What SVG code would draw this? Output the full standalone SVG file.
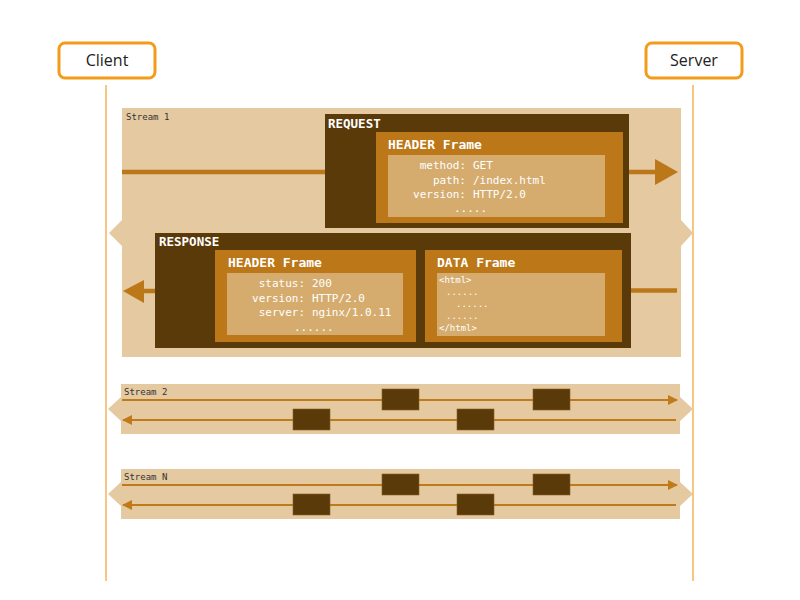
<svg xmlns="http://www.w3.org/2000/svg" width="800" height="600" viewBox="0 0 800 600">
<defs>
<style>
.actor{fill:#fff;stroke:#f39c1a;stroke-width:3}
.actorText{font-family:"Open Sans","Liberation Sans",sans-serif;font-size:16px;fill:#222;text-anchor:middle}
.life{stroke:#f0a030;stroke-width:1.2}
.band{fill:#e4c9a1}
.dark{fill:#5b3a0a}
.mid{fill:#bb7718}
.light{fill:#d5ac6e}
.mono{font-family:"DejaVu Sans Mono","Liberation Mono",monospace}
.slabel{font-size:9px;fill:#333}
.title{font-size:12.5px;font-weight:bold;fill:#fff}
.ftitle{font-size:13px;font-weight:bold;fill:#fff}
.kv{font-size:11px;fill:#fff}
.small{font-size:9px;fill:#fff}
.thick{stroke:#bb7718;stroke-width:4.5;fill:none}
.thin{stroke:#c07a1a;stroke-width:2;fill:none}
.blk{fill:#5b3a0a;stroke:#8a6020;stroke-width:0.6}
</style>
<marker id="ah" viewBox="0 0 10 10" refX="9" refY="5" markerWidth="5" markerHeight="5" orient="auto-start-reverse" markerUnits="strokeWidth">
<path d="M0,0 L10,5 L0,10 z" fill="#c07a1a"/>
</marker>
</defs>

<g id="client">
<rect class="actor" x="59" y="43" width="96" height="35" rx="6"/>
<text class="actorText" x="107" y="66">Client</text>
</g>
<g id="server">
<rect class="actor" x="646" y="43" width="96" height="35" rx="6"/>
<text class="actorText" x="694" y="66">Server</text>
</g>

<g id="lifelines">
<line class="life" x1="106" y1="85" x2="106" y2="581"/>
<line class="life" x1="693" y1="85" x2="693" y2="581"/>
</g>

<g id="stream1">
<polygon class="band" points="122,108 681,108 681,220 693,233 681,246 681,357 122,357 122,246 109,233 122,220"/>
<text class="mono slabel" x="126" y="120">Stream 1</text>
</g>

<g id="request">
<rect class="dark" x="325" y="114" width="304" height="114"/>
<text class="mono title" x="328" y="128">REQUEST</text>
<rect class="mid" x="376" y="132" width="247" height="91"/>
<text class="mono ftitle" x="388" y="149">HEADER Frame</text>
<rect class="light" x="388" y="155" width="217" height="62"/>
<g class="mono kv">
<text x="466" y="169" text-anchor="end">method:</text><text x="473" y="169">GET</text>
<text x="466" y="184" text-anchor="end">path:</text><text x="473" y="184">/index.html</text>
<text x="466" y="198" text-anchor="end">version:</text><text x="473" y="198">HTTP/2.0</text>
<text x="454" y="212">.....</text>
</g>
</g>

<g id="response">
<rect class="dark" x="155" y="233" width="476" height="115"/>
<text class="mono title" x="159" y="246">RESPONSE</text>
<rect class="mid" x="215" y="250" width="201" height="92"/>
<text class="mono ftitle" x="228" y="267">HEADER Frame</text>
<rect class="light" x="227" y="273" width="176" height="62"/>
<g class="mono kv">
<text x="305" y="287" text-anchor="end">status:</text><text x="312" y="287">200</text>
<text x="305" y="302" text-anchor="end">version:</text><text x="312" y="302">HTTP/2.0</text>
<text x="305" y="316" text-anchor="end">server:</text><text x="312" y="316">nginx/1.0.11</text>
<text x="294" y="331">......</text>
</g>
<rect class="mid" x="425" y="250" width="197" height="92"/>
<text class="mono ftitle" x="437" y="267">DATA Frame</text>
<rect class="light" x="437" y="273" width="168" height="63"/>
<g class="mono small">
<text x="439" y="283">&lt;html&gt;</text>
<text x="446" y="295">......</text>
<text x="456" y="307">......</text>
<text x="446" y="319">......</text>
<text x="439" y="331">&lt;/html&gt;</text>
</g>
</g>

<g id="stream2">
<polygon class="band" points="121,384 680,384 680,397 693,409 680,421 680,434 121,434 121,421 108,409 121,397"/>
<text class="mono slabel" x="124" y="395">Stream 2</text>
</g>
<g id="streamN">
<polygon class="band" points="121,469 680,469 680,482 693,494 680,506 680,519 121,519 121,506 108,494 121,482"/>
<text class="mono slabel" x="124" y="480">Stream N</text>
</g>

<g id="connectors">
<line class="thick" x1="122" y1="172" x2="325" y2="172"/>
<line class="thick" x1="629" y1="172" x2="656" y2="172"/>
<polygon points="655,159 678,172 655,185" fill="#bb7718"/>
<line class="thick" x1="143" y1="291" x2="155" y2="291"/>
<polygon points="144,280 123,291 144,303" fill="#bb7718"/>
<line class="thick" x1="631" y1="290.5" x2="677" y2="290.5"/>

<line class="thin" x1="122" y1="400" x2="677" y2="400" marker-end="url(#ah)"/>
<line class="thin" x1="123" y1="420" x2="676" y2="420" marker-start="url(#ah)"/>
<line class="thin" x1="122" y1="485" x2="677" y2="485" marker-end="url(#ah)"/>
<line class="thin" x1="123" y1="505" x2="676" y2="505" marker-start="url(#ah)"/>
</g>

<g id="frames2">
<rect class="blk" x="382" y="389" width="37" height="21"/>
<rect class="blk" x="533" y="389" width="37" height="21"/>
<rect class="blk" x="293" y="409" width="37" height="21"/>
<rect class="blk" x="457" y="409" width="37" height="21"/>
</g>
<g id="framesN">
<rect class="blk" x="382" y="474" width="37" height="21"/>
<rect class="blk" x="533" y="474" width="37" height="21"/>
<rect class="blk" x="293" y="494" width="37" height="21"/>
<rect class="blk" x="457" y="494" width="37" height="21"/>
</g>
</svg>
